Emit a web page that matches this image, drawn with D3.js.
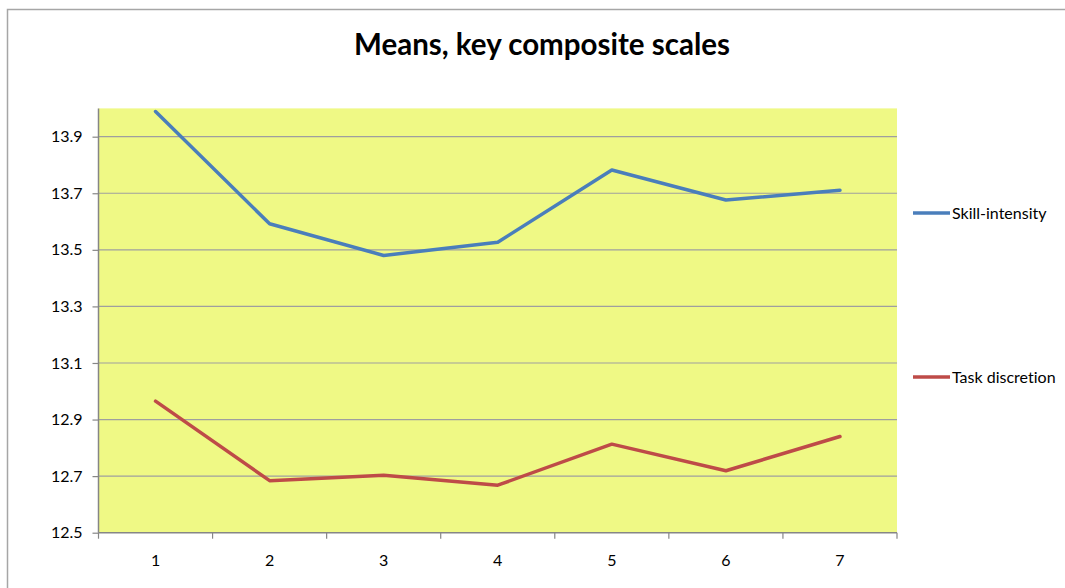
<!DOCTYPE html>
<html>
<head>
<meta charset="utf-8">
<script src="https://cdn.jsdelivr.net/npm/d3@7"></script>
<style>
  html, body { margin: 0; padding: 0; background: #ffffff; }
  svg { display: block; }
  text { font-family: Lato, "Open Sans", sans-serif; fill: #000; font-variant-ligatures: none; }
</style>
</head>
<body>
<svg id="chart" width="1065" height="588"></svg>
<script>
// Survey waves along the x axis
const categories = ["1", "2", "3", "4", "5", "6", "7"];

// Mean scores per wave
const skillIntensity = [13.989, 13.592, 13.480, 13.527, 13.782, 13.676, 13.711];
const taskDiscretion = [12.965, 12.684, 12.703, 12.668, 12.813, 12.719, 12.840];

const seriesNames = ["Skill-intensity", "Task discretion"];
const seriesColors = ["#4a7ebb", "#be4b48"];

const yTicks = [12.5, 12.7, 12.9, 13.1, 13.3, 13.5, 13.7, 13.9];
const yDomain = [12.5, 14.0];

const fontFamily = "Lato, 'Open Sans', sans-serif";
const labelSize = 16;

const svg = d3.select("#chart");

// Outer chart frame
svg.append("rect")
  .attr("x", 7.5).attr("y", 9.5)
  .attr("width", 1070).attr("height", 600)
  .attr("fill", "#fff")
  .attr("stroke", "#a6a6a6").attr("stroke-width", 1.5);

const plot = { left: 98.5, right: 897, top: 108.4, bottom: 532.7 };

const x = d3.scaleBand().domain(categories).range([plot.left, plot.right]);
const y = d3.scaleLinear().domain(yDomain).range([plot.bottom, plot.top]);

// Plot area background
svg.append("rect")
  .attr("x", plot.left).attr("y", plot.top)
  .attr("width", plot.right - plot.left).attr("height", plot.bottom - plot.top)
  .attr("fill", "#eff985");

// Horizontal gridlines
svg.append("g")
  .selectAll("line")
  .data(yTicks.slice(1))
  .join("line")
  .attr("x1", plot.left).attr("x2", plot.right)
  .attr("y1", d => y(d)).attr("y2", d => y(d))
  .attr("stroke", "#9f9f9f").attr("stroke-width", 1.2);

// Y axis
const yAxis = svg.append("g")
  .attr("transform", `translate(${plot.left},0)`)
  .call(d3.axisLeft(y).tickValues(yTicks).tickFormat(d3.format(".1f")).tickSize(6).tickPadding(10));
yAxis.attr("font-family", fontFamily).attr("font-size", labelSize);
yAxis.select(".domain").attr("stroke", "#868686").attr("stroke-width", 1.5)
  .attr("d", `M0,${plot.top}V${plot.bottom}`);
yAxis.selectAll(".tick line").attr("stroke", "#868686").attr("stroke-width", 1.2);
yAxis.selectAll(".tick text").attr("fill", "#000");

// X axis: ticks sit on category boundaries
const xAxisG = svg.append("g").attr("transform", `translate(0,${plot.bottom})`);
xAxisG.append("line")
  .attr("x1", plot.left).attr("x2", plot.right)
  .attr("stroke", "#868686").attr("stroke-width", 1.5);
const boundaries = categories.map(c => x(c)).concat([x(categories[categories.length - 1]) + x.bandwidth()]);
xAxisG.selectAll("line.tk")
  .data(boundaries)
  .join("line").attr("class", "tk")
  .attr("x1", d => d).attr("x2", d => d)
  .attr("y1", 0).attr("y2", 6)
  .attr("stroke", "#868686").attr("stroke-width", 1.2);
xAxisG.selectAll("text")
  .data(categories)
  .join("text")
  .attr("x", d => x(d) + x.bandwidth() / 2)
  .attr("y", 33)
  .attr("text-anchor", "middle")
  .attr("font-size", labelSize)
  .text(d => d);

// Series lines
const line = d3.line()
  .x((d, i) => x(categories[i]) + x.bandwidth() / 2)
  .y(d => y(d));

[skillIntensity, taskDiscretion].forEach((vals, k) => {
  svg.append("path")
    .datum(vals)
    .attr("d", line)
    .attr("fill", "none")
    .attr("stroke", seriesColors[k])
    .attr("stroke-width", 3.5)
    .attr("stroke-linejoin", "round")
    .attr("stroke-linecap", "round");
});

// Legend
const legendY = [213, 377];
seriesNames.forEach((name, k) => {
  const g = svg.append("g").attr("transform", `translate(913,${legendY[k]})`);
  g.append("line")
    .attr("x1", 0).attr("x2", 37)
    .attr("stroke", seriesColors[k]).attr("stroke-width", 3.5);
  g.append("text")
    .attr("x", 39).attr("y", 5.5)
    .attr("font-size", labelSize)
    .text(name);
});

// Title
svg.append("text")
  .attr("x", 542).attr("y", 55)
  .attr("text-anchor", "middle")
  .attr("font-size", 29.5)
  .attr("font-weight", "bold")
  .text("Means, key composite scales");
</script>
</body>
</html>
